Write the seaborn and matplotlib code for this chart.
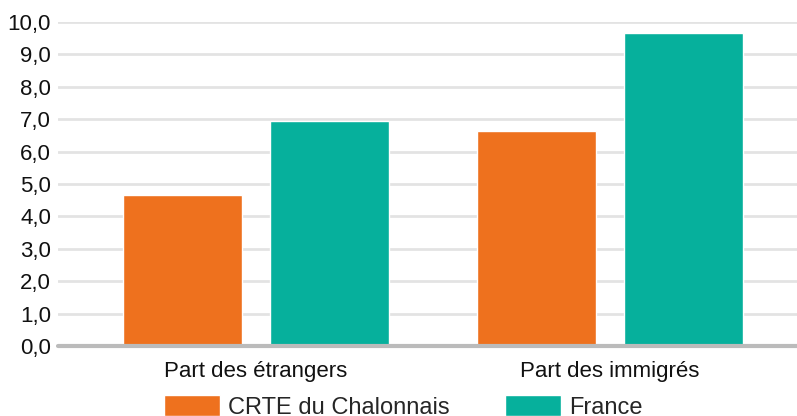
import matplotlib
matplotlib.use("Agg")
import matplotlib.pyplot as plt
import seaborn as sns
import pandas as pd

categories = ["Part des étrangers", "Part des immigrés"]
series_names = ["CRTE du Chalonnais", "France"]
crte_values = [4.67, 6.65]
france_values = [6.94, 9.67]
colors = ["#EE711E", "#06B09C"]
yticks = [0, 1, 2, 3, 4, 5, 6, 7, 8, 9, 10]

df = pd.DataFrame({
    "cat": categories * 2,
    "serie": [series_names[0]] * 2 + [series_names[1]] * 2,
    "val": crte_values + france_values,
})

sns.set_theme(style="white")
plt.rcParams["font.family"] = ["Liberation Sans", "DejaVu Sans"]

fig = plt.figure(figsize=(7.97, 4.16), dpi=100)
ax = fig.add_axes([0.0728, 0.168, 0.9272, 0.779])

sns.barplot(data=df, x="cat", y="val", hue="serie", palette=colors,
            width=0.83, gap=0.193, ax=ax, saturation=1, zorder=2)

ax.set_xlim(-0.559, 1.528)
ax.set_ylim(0, 10)
ax.set_yticks(yticks)
ax.set_yticklabels([f"{v:.1f}".replace(".", ",") for v in yticks], fontsize=16, color="#111111")
ax.set_xticks([0, 1])
ax.set_xticklabels(categories, fontsize=16, color="#111111")
ax.set_xlabel("")
ax.set_ylabel("")
for s in ax.spines.values():
    s.set_visible(False)
ax.grid(axis="y", color="#e3e3e3", linewidth=2, zorder=0)
ax.set_axisbelow(True)
ax.axhline(0, color="#bbbbbb", linewidth=3, zorder=3, clip_on=False)
ax.tick_params(axis="y", length=0, pad=5)
ax.tick_params(axis="x", length=8, width=2, color="#dddddd", pad=3, direction="out")

leg = ax.get_legend()
if leg is not None:
    leg.remove()
handles, labels = ax.get_legend_handles_labels()
fig.legend(handles, labels, loc="upper center", bbox_to_anchor=(0.506, 0.05),
           ncol=2, frameon=False, fontsize=17, handlelength=2.37, handleheight=1.0,
           handletextpad=0.34, columnspacing=2.33, borderaxespad=0, borderpad=0)

fig.savefig("out.png", dpi=100)
